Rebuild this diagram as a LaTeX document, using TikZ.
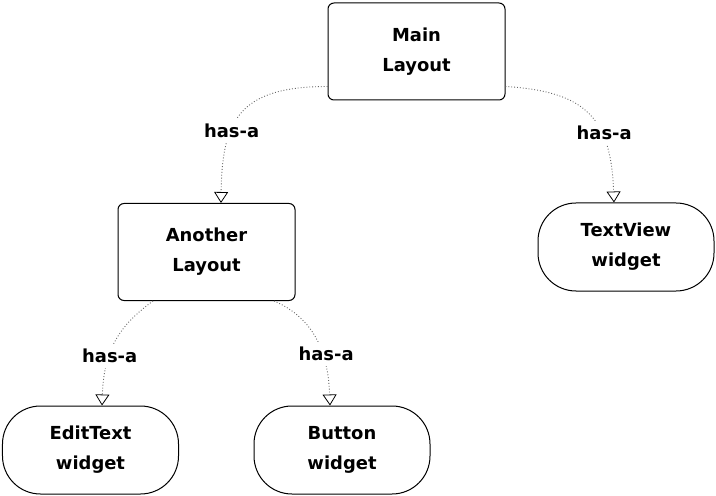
\documentclass[tikz,border=0pt]{standalone}
\usepackage{fontspec}
\setmainfont{DejaVu Sans}
\usepackage{tikz}
\usetikzlibrary{arrows.meta}
\usetikzlibrary{positioning}

\begin{document}
\begin{tikzpicture}[x=1bp,y=-1bp,
                lay/.style={draw,line width=1bp,rectangle,
                    rounded corners=6bp,
                    minimum width=177bp,minimum height=97bp,
                    align=center,font=\fontsize{18}{30}\selectfont\bfseries},
                wid/.style={draw,line width=1bp,rectangle,
                    rounded corners=38bp,
                    minimum width=176bp,minimum height=88bp,
                    align=center,font=\fontsize{18}{30}\selectfont\bfseries},
                hasa/.style={draw=black!60,dotted,line width=0.9bp,
                    -{Triangle[open,color=black,line width=0.8bp,length=11bp,width=14bp]}},
                lbl/.style={fill=white,inner sep=5bp,font=\fontsize{18}{20}\selectfont\bfseries}]
    \useasboundingbox (0,0) rectangle (716,496);
    \node[lay](main) at (416.5,51.5) {Main\\Layout};
    \node[lay](another) at (206.5,252) {Another\\Layout};
    \node[wid](textview) at (626,247) {TextView\\widget};
    \node[wid](edittext) at (90.5,450) {EditText\\widget};
    \node[wid](button) at (342,450) {Button\\widget};
    \draw[hasa] ([yshift=14bp]main.south west) .. controls +(-88,0) and +(1,-83) ..
        node[lbl,pos=0.63]{has-a} ([xshift=14.5bp]another.north);
    \draw[hasa] ([yshift=14bp]main.south east) .. controls +(80,5) and +(-3,-85) ..
        node[lbl,pos=0.65,xshift=3bp]{has-a} ([xshift=-12bp]textview.north);
    \draw[hasa] ([xshift=-53.5bp]another.south) .. controls +(-30,22) and +(2,-60) ..
        node[lbl,pos=0.66]{has-a} ([xshift=11.5bp]edittext.north);
    \draw[hasa] ([xshift=67.5bp]another.south) .. controls +(35,15) and +(-2,-60) ..
        node[lbl,pos=0.66,xshift=4bp]{has-a} ([xshift=-12bp]button.north);
\end{tikzpicture}
\end{document}
